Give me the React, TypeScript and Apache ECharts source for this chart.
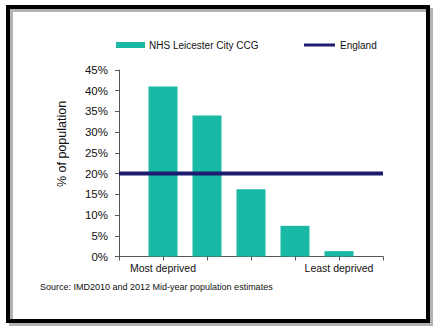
import React, { useEffect, useRef } from "react";
import * as echarts from "echarts";

const positions = [1, 2, 3, 4, 5];
const ccgValues = [41, 34, 16.2, 7.4, 1.3];
const englandValue = 20;
const xLabels: Record<number, string> = { 1: "Most deprived", 5: "Least deprived" };
const seriesNames = ["NHS Leicester City CCG", "England"];
const yAxisTitle = "% of population";
const sourceText = "Source: IMD2010 and 2012 Mid-year population estimates";

const TEAL = "#1ab9a6";
const NAVY = "#1e1c6e";
const FONT = "'Liberation Sans', Arial, sans-serif";

export default function App() {
  const ref = useRef<HTMLDivElement>(null);
  useEffect(() => {
    if (!ref.current) return;
    const chart = echarts.init(ref.current, undefined, { renderer: "svg" });
    chart.setOption({
      animation: false,
      backgroundColor: "#ffffff",
      textStyle: { fontFamily: FONT },
      grid: { left: 119, right: 58, top: 70, bottom: 78.5, containLabel: false },
      legend: [
        {
          data: [seriesNames[0]],
          left: 111,
          top: 35,
          itemWidth: 29,
          itemHeight: 6,
          icon: "rect",
          textStyle: { fontSize: 10, color: "#111", fontFamily: FONT, padding: [0, 0, 0, -1] },
        },
        {
          data: [seriesNames[1]],
          left: 299,
          top: 35,
          itemWidth: 31,
          itemHeight: 3,
          icon: "rect",
          textStyle: { fontSize: 10, color: "#111", fontFamily: FONT },
        },
      ],
      xAxis: {
        type: "value",
        min: 0,
        max: 6,
        interval: 1,
        splitLine: { show: false },
        axisLine: { show: true, lineStyle: { color: "#555", width: 1 } },
        axisTick: { show: true, length: 4, lineStyle: { color: "#555" } },
        axisLabel: {
          margin: 6,
          fontSize: 10.5,
          color: "#111",
          fontFamily: FONT,
          formatter: (v: number) => xLabels[v] || "",
        },
      },
      yAxis: {
        type: "value",
        min: 0,
        max: 45,
        interval: 5,
        splitLine: { show: false },
        axisLine: { show: true, lineStyle: { color: "#555", width: 1 } },
        axisTick: { show: true, length: 4, inside: false, lineStyle: { color: "#555" } },
        axisLabel: {
          margin: 11,
          fontSize: 11.5,
          color: "#111",
          fontFamily: FONT,
          formatter: (v: number) => v + "%",
        },
      },
      series: [
        {
          name: seriesNames[0],
          type: "bar",
          barWidth: 29,
          itemStyle: { color: TEAL },
          data: positions.map((p, i) => [p, ccgValues[i]]),
          z: 2,
        },
        {
          name: seriesNames[1],
          type: "line",
          symbol: "none",
          lineStyle: { color: NAVY, width: 4 },
          itemStyle: { color: NAVY },
          data: [
            [0, englandValue],
            [6, englandValue],
          ],
          z: 3,
        },
      ],
      graphic: [
        {
          type: "text",
          x: 62,
          y: 144,
          rotation: Math.PI / 2,
          style: {
            text: yAxisTitle,
            fontSize: 12.5,
            fill: "#111",
            fontFamily: FONT,
            align: "center",
            verticalAlign: "middle",
          },
        },
        {
          type: "text",
          left: 40,
          top: 282,
          style: { text: sourceText, fontSize: 9, fill: "#111", fontFamily: FONT },
        },
        {
          type: "rect",
          shape: { x: 11, y: 10, width: 420, height: 314 },
          style: { fill: "none", stroke: "rgba(0,0,0,0.3)", lineWidth: 4 },
          z: 10,
        },
        {
          type: "rect",
          shape: { x: 8, y: 7, width: 420, height: 314 },
          style: { fill: "none", stroke: "#000", lineWidth: 4 },
          z: 11,
        },
      ],
    });
    return () => chart.dispose();
  }, []);
  return (
    <div
      ref={ref}
      style={{ position: "absolute", left: 0, top: 0, width: 441, height: 335 }}
    />
  );
}
